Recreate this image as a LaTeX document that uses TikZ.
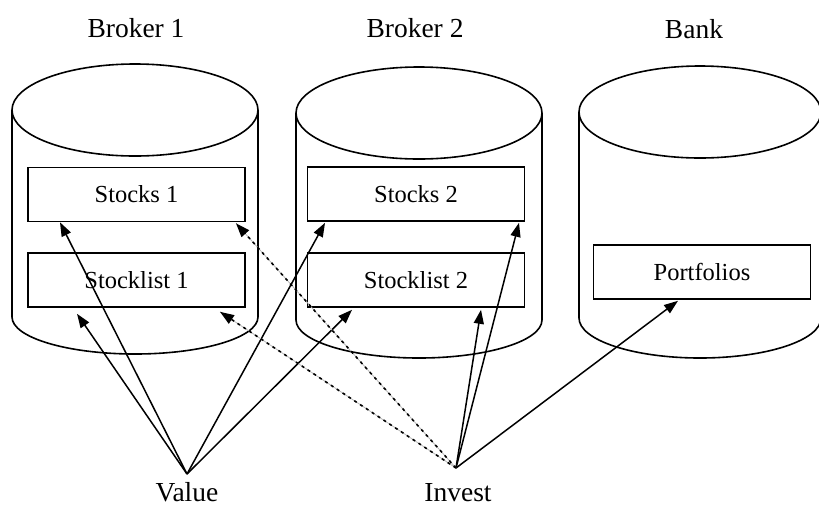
\documentclass[tikz,border=0pt]{standalone}
\usepackage{fontspec}
\setmainfont{Liberation Serif}
\usetikzlibrary{arrows.meta,calc}
\tikzset{
  cyl/.style={draw=black, line width=1.6pt},
  box/.style={draw=black, line width=1.6pt, rectangle, minimum width=217pt, minimum height=54pt, inner sep=0pt, font=\fontsize{24.5}{28}\selectfont},
  lbl/.style={inner sep=0pt, font=\fontsize{27.5}{32}\selectfont},
  arr/.style={draw=black, line width=1.5pt, -{Triangle[length=14pt,width=10pt]}},
  dotarr/.style={draw=black, line width=1.6pt, dash pattern=on 3pt off 4pt, -{Triangle[length=14pt,width=10pt]},
    preaction={draw=gray!55, line width=0.8pt, solid, -}}
}
\newcommand\dbcyl[6]{%
  \draw[cyl] (#1,-#3) ellipse [x radius=#2, y radius=#4];
  \draw[cyl] ({#1-#2},-#3) -- ({#1-#2},-#5) arc[start angle=180,end angle=360,x radius=#2,y radius=#6] -- ({#1+#2},-#3);}
\begin{document}
\begin{tikzpicture}[x=1pt,y=1pt]
\useasboundingbox (0,0) rectangle (819,-507);
\clip (0,0) rectangle (819,-507);
% cylinders
\dbcyl{135}{123}{110}{46}{317}{37}
\dbcyl{419}{123}{113}{46}{320}{38}
\dbcyl{700}{121}{112}{46}{318}{40}
% titles
\node[lbl, anchor=base] (b1) at (136,-37) {Broker 1};
\node[lbl, anchor=base] (b2) at (415,-37) {Broker 2};
\node[lbl, anchor=base] (bk) at (694,-38) {Bank};
% boxes
\node[box] (s1) at (136.5,-194.5) {Stocks 1};
\node[box] (sl1) at (136.5,-280) {Stocklist 1};
\node[box] (s2) at (416,-194) {Stocks 2};
\node[box] (sl2) at (416,-280) {Stocklist 2};
\node[box] (pf) at (702,-272) {Portfolios};
% bottom labels
\node[lbl, anchor=base] (val) at (187,-501) {Value};
\node[lbl, anchor=base] (inv) at (458,-501) {Invest};
\coordinate (vp) at (187,-474);
\coordinate (ip) at (456,-468);
% value arrows
\draw[arr] (vp) -- ([xshift=-76.5pt]s1.south);
\draw[arr] (vp) -- ([xshift=-59.5pt,yshift=-6pt]sl1.south);
\draw[arr] (vp) -- ([xshift=-91pt,yshift=-1pt]s2.south);
\draw[arr] (vp) -- ([xshift=-64pt,yshift=-2pt]sl2.south);
% invest arrows
\draw[arr] (ip) -- ([xshift=103pt,yshift=-1pt]s2.south);
\draw[arr] (ip) -- ([xshift=65pt,yshift=-2pt]sl2.south);
\draw[arr] (ip) -- ([xshift=-24pt,yshift=-1pt]pf.south);
\draw[dotarr] (ip) -- ([xshift=99.5pt,yshift=-1pt]s1.south);
\draw[dotarr] (ip) -- ([xshift=83.5pt,yshift=-4pt]sl1.south);
\end{tikzpicture}
\end{document}
